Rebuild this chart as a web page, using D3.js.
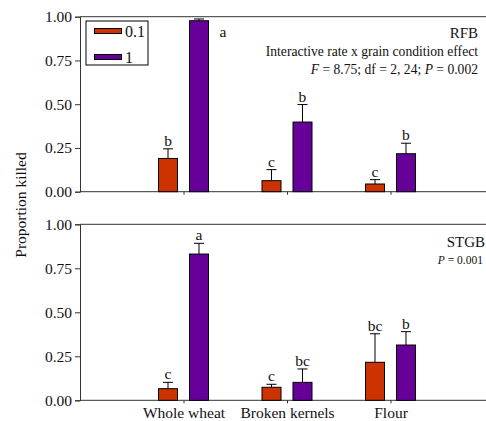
<!DOCTYPE html>
<html><head><meta charset="utf-8">
<script src="https://cdn.jsdelivr.net/npm/d3@7"></script>
<style>
body{margin:0;background:#fff;}
svg{display:block;}
svg text{font-family:"Liberation Serif","Times New Roman",serif;}
</style></head>
<body><svg id="c" width="486" height="421"></svg>
<script>
const categories = ["Whole wheat", "Broken kernels", "Flour"];
const rates = ["0.1", "1"];
const yTicks = [0, 0.25, 0.5, 0.75, 1];

const rfbMean01 = [0.19, 0.063, 0.044];
const rfbErr01  = [0.055, 0.063, 0.025];
const rfbLet01  = ["b", "c", "c"];
const rfbMean1  = [0.977, 0.398, 0.217];
const rfbErr1   = [0.01, 0.10, 0.06];
const rfbLet1   = ["a", "b", "b"];

const stgbMean01 = [0.066, 0.074, 0.216];
const stgbErr01  = [0.036, 0.017, 0.162];
const stgbLet01  = ["c", "c", "bc"];
const stgbMean1  = [0.831, 0.102, 0.314];
const stgbErr1   = [0.061, 0.076, 0.076];
const stgbLet1   = ["a", "bc", "b"];

const colors = {"0.1": "#cc3300", "1": "#660099"};
const axisColor = "#333";
const textColor = "#111";

const svg = d3.select("#c");
const x = d3.scalePoint().domain(categories).range([80, 494]).padding(1);
const xs = d3.scaleBand().domain(rates).range([-25, 25]).paddingInner(0.387).paddingOuter(0);

function buildRows(m01, e01, l01, m1, e1, l1) {
  const rows = [];
  categories.forEach((c, i) => {
    rows.push({cat: c, rate: "0.1", mean: m01[i], err: e01[i], lab: l01[i]});
    rows.push({cat: c, rate: "1", mean: m1[i], err: e1[i], lab: l1[i]});
  });
  return rows;
}

function panel(rows, yTop, yBottom, showLabels) {
  const y = d3.scaleLinear().domain([0, 1]).range([yBottom, yTop]);
  const g = svg.append("g");
  g.append("line").attr("x1", 80).attr("x2", 486).attr("y1", y(1)).attr("y2", y(1))
    .attr("stroke", axisColor).attr("stroke-width", 1);
  const ya = g.append("g").attr("transform", "translate(80,0)")
    .call(d3.axisLeft(y).tickValues(yTicks).tickFormat(d3.format(".2f")).tickSize(5).tickPadding(3));
  ya.attr("font-family", null);
  ya.select(".domain").attr("stroke", axisColor);
  ya.selectAll(".tick line").attr("stroke", axisColor);
  ya.selectAll("text").attr("font-size", 15.5).attr("fill", textColor);
  const xa = g.append("g").attr("transform", `translate(0,${y(0)})`)
    .call(d3.axisBottom(x).tickSize(3).tickPadding(4));
  xa.attr("font-family", null);
  xa.select(".domain").attr("d", `M80,0H486`).attr("stroke", axisColor);
  xa.selectAll(".tick line").attr("stroke", axisColor);
  xa.selectAll("text").attr("font-size", 15.5).attr("fill", textColor)
    .style("display", showLabels ? null : "none");
  const cxOf = d => x(d.cat) + xs(d.rate) + xs.bandwidth() / 2;
  const eb = g.selectAll(".eb").data(rows).enter().append("g");
  eb.append("line")
    .attr("x1", cxOf).attr("x2", cxOf)
    .attr("y1", d => y(d.mean)).attr("y2", d => y(d.mean + d.err))
    .attr("stroke", "#000").attr("stroke-width", 1);
  eb.append("line")
    .attr("x1", d => cxOf(d) - 5).attr("x2", d => cxOf(d) + 5)
    .attr("y1", d => y(d.mean + d.err)).attr("y2", d => y(d.mean + d.err))
    .attr("stroke", "#000").attr("stroke-width", 1);
  g.selectAll(".bar").data(rows).enter().append("rect")
    .attr("x", d => x(d.cat) + xs(d.rate))
    .attr("width", xs.bandwidth())
    .attr("y", d => y(d.mean))
    .attr("height", d => y(0) - y(d.mean))
    .attr("fill", d => colors[d.rate])
    .attr("stroke", "#000").attr("stroke-width", 1);
  const crowded = d => y(d.mean + d.err) - 18 < y(1);
  g.selectAll(".lab").data(rows).enter().append("text")
    .attr("x", d => crowded(d) ? cxOf(d) + 24 : cxOf(d))
    .attr("y", d => crowded(d) ? y(1) + 20 : y(d.mean + d.err) - 3)
    .attr("text-anchor", "middle").attr("font-size", 15.5).attr("fill", textColor)
    .text(d => d.lab);
  return {g, y};
}

panel(buildRows(rfbMean01, rfbErr01, rfbLet01, rfbMean1, rfbErr1, rfbLet1), 16.7, 191.7, false);
panel(buildRows(stgbMean01, stgbErr01, stgbLet01, stgbMean1, stgbErr1, stgbLet1), 224.3, 400.3, true);

// Legend
const lg = svg.append("g");
lg.append("rect").attr("x", 86).attr("y", 21).attr("width", 62).attr("height", 44)
  .attr("fill", "#fff").attr("stroke", "#000").attr("stroke-width", 1);
rates.forEach((r, i) => {
  const yy = 28.5 + i * 26;
  lg.append("rect").attr("x", 94.5).attr("y", yy).attr("width", 27).attr("height", 5)
    .attr("fill", colors[r]).attr("stroke", "#000").attr("stroke-width", 1);
  lg.append("text").attr("x", 125).attr("y", yy + 8).attr("font-size", 16).attr("fill", textColor).text(r);
});

// Annotations top
svg.append("text").attr("x", 478).attr("y", 38).attr("text-anchor", "end").attr("font-size", 15).attr("fill", textColor).text("RFB");
svg.append("text").attr("x", 478).attr("y", 56).attr("text-anchor", "end").attr("font-size", 13.6).attr("fill", textColor)
  .text("Interactive rate x grain condition effect");
const st = svg.append("text").attr("x", 478).attr("y", 74).attr("text-anchor", "end").attr("font-size", 13.6).attr("fill", textColor);
st.append("tspan").attr("font-style", "italic").text("F");
st.append("tspan").text(" = 8.75; df = 2, 24; ");
st.append("tspan").attr("font-style", "italic").text("P");
st.append("tspan").text(" = 0.002");

// Annotations bottom
svg.append("text").attr("x", 485).attr("y", 247).attr("text-anchor", "end").attr("font-size", 15).attr("fill", textColor).text("STGB");
const st2 = svg.append("text").attr("x", 483).attr("y", 264).attr("text-anchor", "end").attr("font-size", 11.5).attr("fill", textColor);
st2.append("tspan").attr("font-style", "italic").text("P");
st2.append("tspan").text(" = 0.001");

// Y label
svg.append("text").attr("transform", "translate(26,205) rotate(-90)").attr("text-anchor", "middle")
  .attr("font-size", 15.5).attr("fill", textColor).text("Proportion killed");
</script></body></html>
